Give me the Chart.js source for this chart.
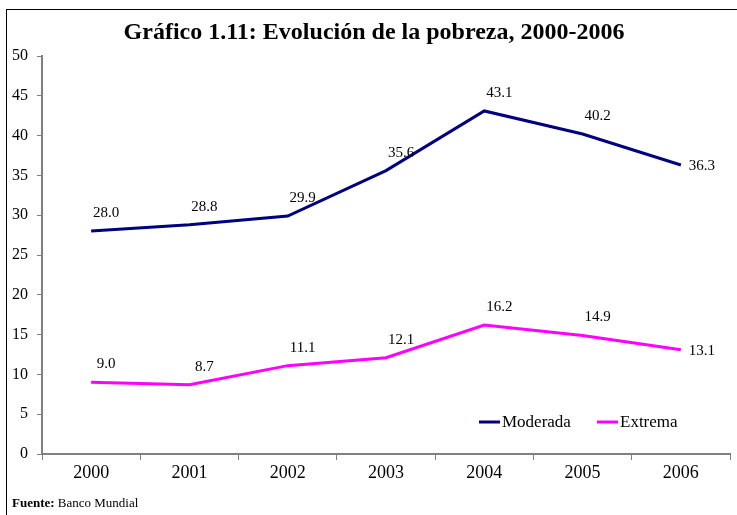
<!DOCTYPE html>
<html>
<head>
<meta charset="utf-8">
<script src="https://cdn.jsdelivr.net/npm/chart.js@4/dist/chart.umd.min.js"></script>
<style>
    body { margin: 0; background: #fff; }
    #wrap { position: relative; width: 737px; height: 515px; overflow: hidden; }
    #frame { position: absolute; left: 6px; top: 9px; width: 800px; height: 600px;
             border-left: 1.5px solid #000; border-top: 1.5px solid #000; }
    canvas { position: absolute; left: 0; top: 0; }
</style>
</head>
<body>
<div id="wrap">
    <div id="frame"></div>
    <canvas id="chart" width="737" height="515"></canvas>
</div>
<script>
const years = ['2000', '2001', '2002', '2003', '2004', '2005', '2006'];
const moderada = [28.0, 28.8, 29.9, 35.6, 43.1, 40.2, 36.3];
const extrema = [9.0, 8.7, 11.1, 12.1, 16.2, 14.9, 13.1];
const titleText = 'Gráfico 1.11: Evolución de la pobreza, 2000-2006';

const SERIF = '"Liberation Serif", "Times New Roman", serif';

/**
 * Title, value labels, legend and source note.
 */
const extrasPlugin = {
    id: 'extras',
    afterDraw: (chart) => {
        const ctx = chart.ctx;
        const area = chart.chartArea;
        ctx.save();

        // title
        ctx.fillStyle = '#000';
        ctx.font = 'bold 24px ' + SERIF;
        ctx.textAlign = 'center';
        ctx.textBaseline = 'middle';
        ctx.fillText(titleText, 374, 33);

        // value labels
        ctx.font = '15px ' + SERIF;
        chart.data.datasets.forEach((ds, i) => {
            let meta = chart.getDatasetMeta(i);
            meta.data.forEach((pt, j) => {
                let txt = ds.data[j].toFixed(1);
                if (j == ds.data.length - 1) {
                    ctx.textAlign = 'left';
                    ctx.fillText(txt, pt.x + 8, pt.y + 1);
                } else {
                    ctx.textAlign = 'center';
                    ctx.fillText(txt, pt.x + 15, pt.y - 18);
                }
            });
        });

        // legend
        ctx.font = '17px ' + SERIF;
        ctx.textAlign = 'left';
        let ly = area.top + 366;
        let items = [[area.left + 437, 0], [area.left + 555, 1]];
        items.forEach(([lx, i]) => {
            let ds = chart.data.datasets[i];
            ctx.strokeStyle = ds.borderColor;
            ctx.lineWidth = 3;
            ctx.beginPath();
            ctx.moveTo(lx, ly);
            ctx.lineTo(lx + 21, ly);
            ctx.stroke();
            ctx.fillText(ds.label, lx + 23, ly + 1);
        });

        // source
        ctx.font = 'bold 13px ' + SERIF;
        ctx.fillText('Fuente:', 12, 504);
        let w = ctx.measureText('Fuente: ').width;
        ctx.font = '13px ' + SERIF;
        ctx.fillText('Banco Mundial', 12 + w, 504);

        ctx.restore();
    }
};

new Chart(document.getElementById('chart'), {
    type: 'line',
    data: {
        labels: years,
        datasets: [{
            label: 'Moderada',
            data: moderada,
            borderColor: '#000080',
            backgroundColor: '#000080',
            borderWidth: 3,
            pointRadius: 0,
            tension: 0
        }, {
            label: 'Extrema',
            data: extrema,
            borderColor: '#FF00FF',
            backgroundColor: '#FF00FF',
            borderWidth: 3,
            pointRadius: 0,
            tension: 0
        }]
    },
    options: {
        responsive: false,
        animation: false,
        layout: { padding: { top: 56, left: 0, right: 7, bottom: 0 } },
        plugins: {
            legend: { display: false },
            title: { display: false },
            tooltip: { enabled: false }
        },
        scales: {
            x: {
                offset: true,
                grid: { drawOnChartArea: false, drawTicks: true, tickLength: 6, color: '#808080', offset: true },
                border: { color: '#808080', width: 2 },
                ticks: { color: '#000', font: { family: SERIF, size: 18 }, padding: 2, maxRotation: 0 },
                afterFit: (scale) => { scale.height = 61; }
            },
            y: {
                min: 0,
                max: 50,
                grid: { drawOnChartArea: false, drawTicks: true, tickLength: 5, color: '#808080' },
                border: { color: '#808080', width: 2 },
                ticks: { stepSize: 5, color: '#000', font: { family: SERIF, size: 16 }, padding: 9 },
                afterFit: (scale) => { scale.width = 42; }
            }
        }
    },
    plugins: [extrasPlugin]
});
</script>
</body>
</html>
